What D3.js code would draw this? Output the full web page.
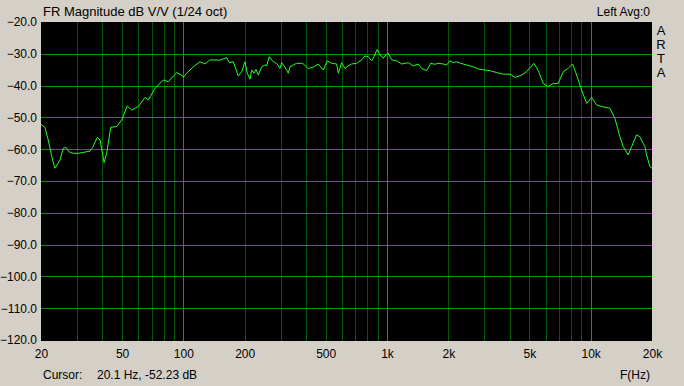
<!DOCTYPE html>
<html>
<head>
<meta charset="utf-8">
<script src="https://cdn.jsdelivr.net/npm/d3@7"></script>
<style>
  html, body { margin: 0; padding: 0; background: #d4d0c8; }
  svg { display: block; }
  text { font-family: "Liberation Sans", Arial, sans-serif; font-size: 12px; fill: #000; }
</style>
</head>
<body>
<svg id="chart" width="684" height="386"></svg>
<script>
// frequency response (Hz / dB)
const freqHz = [
  20, 20.9, 21.7, 22.6, 23.4, 24.8, 25.7, 26.5, 27.4, 28.8, 30.5, 34.8, 35.9, 37.8, 39.0,
  40.8, 42.0, 44.0, 47.1, 49.8, 53.0, 55.8, 60.1, 64.8, 67.3, 72.6, 79.7, 84.3, 92.7, 98.1,
  99.9, 103.8, 111.9, 120.7, 127.7, 135.1, 151.3, 160.1, 163, 168, 175.8, 186.1, 193.4, 200.7,
  206.0, 212.4, 216.5, 222.2, 227.3, 233.2, 242.4, 251.6, 256.5, 264.1, 276.4, 287.2, 298.1,
  303.9, 315.4, 327.4, 333.8, 346.4, 360.0, 381.0, 388.0, 410.4, 434.4, 459.6, 486.4, 508.8,
  534.8, 565.8, 576.2, 598.8, 621.6, 645, 670.4, 709.4, 750.6, 779.2, 808.8, 840.4, 862.6,
  895.6, 923.2, 958.4, 995.8, 1014, 1054, 1115, 1180, 1271, 1345, 1423, 1479, 1565, 1638,
  1719, 1784, 1888, 1962, 2037, 2114, 2197, 2299, 2460, 2650, 2859, 3026, 3202, 3454, 3720,
  4013, 4246, 4580, 4847, 5264, 5526, 5846, 6186, 6546, 6926, 7330, 7756, 8152, 8530, 9026,
  9550, 10106, 10694, 11316, 12428, 13150, 13914, 14444, 15284, 15882, 16806, 17444, 18458,
  18816, 19532, 20000
]
const levelDb = [
  -52.2, -53.1, -57.1, -62.4, -66.0, -63.4, -59.7, -59.4, -60.8, -61.3, -61.3, -60.6, -59.4, -56.3, -57.1,
  -64.2, -61.3, -53.1, -52.9, -50.8, -46.4, -47.7, -46.6, -43.7, -44.5, -40.9, -38.2, -38.8, -35.9, -36.7,
  -37.4, -36.1, -34.1, -32.5, -33.2, -31.9, -32.0, -31.4, -31.2, -32.8, -32.5, -37.0, -35.6, -32.5,
  -36.1, -38.0, -35.1, -36.1, -34.9, -36.7, -34.1, -33.5, -33.8, -30.9, -32.5, -33.0, -34.6,
  -32.8, -34.2, -36.1, -34.1, -33.5, -33.0, -33.0, -33.2, -34.6, -34.2, -33.2, -35.1, -32.2,
  -33.0, -33.2, -36.1, -32.8, -34.6, -33.8, -33.2, -33.0, -31.9, -30.7, -30.9, -32.2, -30.9,
  -28.6, -30.4, -31.4, -30.1, -29.8, -31.9, -32.2, -33.2, -32.8, -33.8, -33.2, -34.6, -35.3, -33.0,
  -33.3, -33.0, -33.2, -33.5, -32.2, -32.8, -32.5, -33.0, -33.5, -34.1, -34.9, -35.1, -35.3, -35.9, -36.4,
  -36.4, -37.4, -36.7, -35.6, -33.0, -35.3, -39.3, -40.3, -39.3, -39.3, -35.6, -34.6, -33.2, -36.7, -41.4,
  -45.6, -43.7, -46.1, -46.6, -47.1, -50.3, -56.1, -59.2, -61.8, -59.2, -55.5, -56.1, -59.2,
  -61.8, -65.5, -66.0
]

const yTicks = [-20, -30, -40, -50, -60, -70, -80, -90, -100, -110, -120]
const xLabelTicks = [20, 50, 100, 200, 500, 1000, 2000, 5000, 10000, 20000]
const xLabelText = ['20', '50', '100', '200', '500', '1k', '2k', '5k', '10k', '20k']
const decadeTicks = [100, 1000, 10000]
const minorTicks = [30, 40, 50, 60, 70, 80, 90, 200, 300, 400, 500, 600, 700, 800, 900,
  2000, 3000, 4000, 5000, 6000, 7000, 8000, 9000]

const plot = { left: 41, right: 652, top: 22, bottom: 340 }

var svg = d3.select('#chart')

var x = d3.scaleLog().domain([20, 20000]).range([plot.left, plot.right])
var y = d3.scaleLinear().domain([-120, -20]).range([plot.bottom, plot.top])

svg.append('rect')
  .attr('x', plot.left).attr('y', plot.top)
  .attr('width', plot.right - plot.left).attr('height', plot.bottom - plot.top + 1)
  .attr('fill', '#000')

var grid = svg.append('g').attr('shape-rendering', 'crispEdges')

// minor verticals are dim, decades a bit brighter
grid.selectAll('line.minor')
  .data(minorTicks)
  .enter().append('line')
  .attr('class', 'minor')
  .attr('x1', d => Math.round(x(d)) + 0.5).attr('x2', d => Math.round(x(d)) + 0.5)
  .attr('y1', plot.top).attr('y2', plot.bottom + 1)
  .attr('stroke', '#005800')

grid.selectAll('line.hz')
  .data(yTicks.filter(d => d !== -20 && d !== -120))
  .enter().append('line')
  .attr('class', 'hz')
  .attr('x1', plot.left).attr('x2', plot.right)
  .attr('y1', d => Math.round(y(d)) + 0.5).attr('y2', d => Math.round(y(d)) + 0.5)
  .attr('stroke', '#009800')

grid.selectAll('line.decade')
  .data(decadeTicks)
  .enter().append('line')
  .attr('class', 'decade')
  .attr('x1', d => Math.round(x(d)) + 0.5).attr('x2', d => Math.round(x(d)) + 0.5)
  .attr('y1', plot.top).attr('y2', plot.bottom + 1)
  .attr('stroke', '#00a800')

var line = d3.line()
  .x((d, i) => x(freqHz[i]))
  .y(d => y(d))

svg.append('path')
  .datum(levelDb)
  .attr('d', line)
  .attr('fill', 'none')
  .attr('stroke', '#22ff22')
  .attr('stroke-width', 1)
  .attr('stroke-linejoin', 'round')

// axes (labels only)
var yAxis = d3.axisLeft(y)
  .tickValues(yTicks)
  .tickSize(0)
  .tickPadding(4)
  .tickFormat(d3.format('.1f'))
var gy = svg.append('g').attr('transform', 'translate(' + plot.left + ',0)').call(yAxis)
gy.select('.domain').remove()
gy.selectAll('text').attr('font-size', 12.5).attr('font-family', null)

var xAxis = d3.axisBottom(x)
  .tickValues(xLabelTicks)
  .tickSize(0)
  .tickPadding(8)
  .tickFormat((d, i) => xLabelText[i])
var gx = svg.append('g').attr('transform', 'translate(0,' + (plot.bottom + 1) + ')').call(xAxis)
gx.select('.domain').remove()
gx.selectAll('text').attr('font-size', 12.5).attr('font-family', null)

svg.append('text').attr('x', 43).attr('y', 16).style('font-size', '13px').text('FR Magnitude dB V/V (1/24 oct)')
svg.append('text').attr('x', 650).attr('y', 16).attr('text-anchor', 'end').text('Left Avg:0')

var arta = ['A', 'R', 'T', 'A']
svg.selectAll('text.arta')
  .data(arta)
  .enter().append('text')
  .attr('class', 'arta')
  .attr('x', 661).attr('y', (d, i) => 35 + i * 14)
  .attr('text-anchor', 'middle')
  .style('font-size', '13px')
  .text(d => d)

svg.append('text').attr('x', 43).attr('y', 379).text('Cursor:')
svg.append('text').attr('x', 97).attr('y', 379).text('20.1 Hz, -52.23 dB')
svg.append('text').attr('x', 650).attr('y', 379).attr('text-anchor', 'end').text('F(Hz)')
</script>
</body>
</html>
